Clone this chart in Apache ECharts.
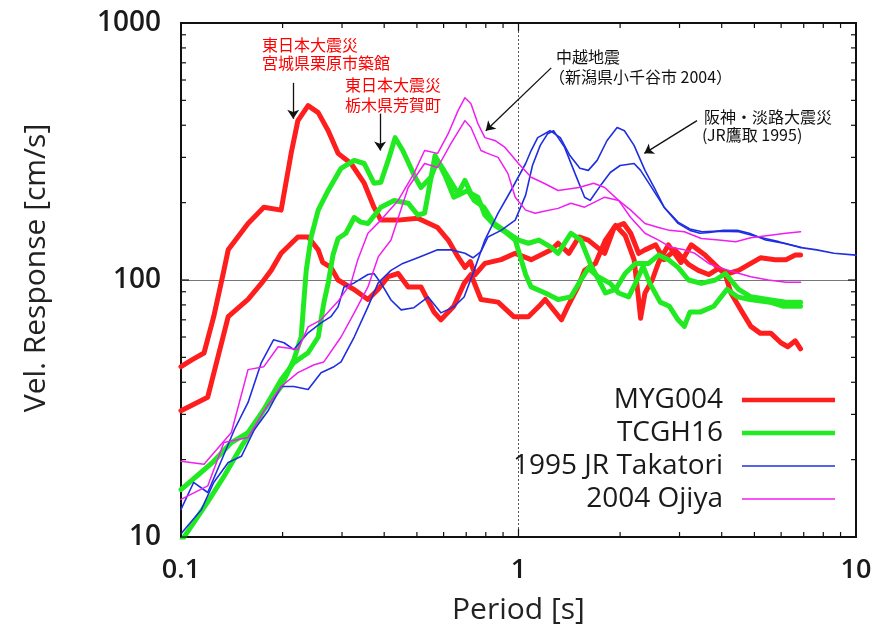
<!DOCTYPE html>
<html>
<head>
<meta charset="utf-8">
<title>Vel. Response</title>
<script src="https://cdn.jsdelivr.net/npm/echarts@6.0.0/dist/echarts.min.js"></script>
<style>
  html, body { margin: 0; padding: 0; background: #fff; }
  #chart { width: 880px; height: 635px; }
</style>
</head>
<body>
<div id="chart"></div>
<script>
// [period (s), velocity response (cm/s)], two components per record
var myg004A = [[0.1, 46], [0.108, 49], [0.117, 52], [0.125, 72], [0.134, 109], [0.138, 131], [0.158, 166], [0.176, 192],
  [0.198, 187], [0.212, 311], [0.222, 417], [0.238, 477], [0.255, 448], [0.273, 381], [0.292, 311], [0.319, 284],
  [0.349, 238], [0.373, 192], [0.391, 171], [0.44, 171], [0.503, 174], [0.576, 160], [0.619, 143], [0.662, 123],
  [0.694, 112], [0.72, 118], [0.744, 105], [0.795, 116], [0.888, 120], [0.978, 127], [1.09, 120], [1.25, 131],
  [1.31, 139], [1.41, 127], [1.51, 147], [1.61, 143], [1.8, 127], [1.92, 160], [2.05, 166], [2.15, 152], [2.27, 127],
  [2.37, 131], [2.55, 137], [2.7, 120], [2.91, 131], [3.19, 115], [3.41, 109], [3.66, 105], [3.92, 111], [4.19, 106],
  [4.49, 109], [4.88, 116], [5.21, 122], [5.76, 120], [6.2, 120], [6.61, 125], [6.85, 125]];
var myg004B = [[0.1, 31], [0.12, 35], [0.138, 72], [0.158, 84], [0.173, 97], [0.185, 109], [0.198, 127], [0.222, 147],
  [0.238, 147], [0.255, 131], [0.263, 117], [0.278, 112], [0.292, 100], [0.325, 92], [0.358, 84], [0.384, 92],
  [0.411, 103], [0.44, 106], [0.471, 94], [0.514, 94], [0.562, 75], [0.589, 70], [0.643, 79], [0.69, 97], [0.723, 105],
  [0.774, 84], [0.87, 82], [0.968, 72], [1.07, 72], [1.15, 79], [1.2, 84], [1.34, 70], [1.4, 79], [1.5, 94], [1.57, 109],
  [1.69, 116], [1.81, 143], [1.94, 163], [2.07, 149], [2.2, 120], [2.27, 84], [2.3, 71], [2.37, 89], [2.49, 100],
  [2.6, 117], [2.78, 137], [3.03, 117], [3.25, 137], [3.57, 125], [3.92, 111], [4.1, 105], [4.26, 89], [4.6, 75],
  [4.88, 66], [5.21, 62], [5.6, 62], [5.99, 57], [6.28, 55], [6.61, 58], [6.85, 54]];
var tcgh16A = [[0.1, 15.3], [0.115, 17.9], [0.125, 19.7], [0.141, 23.3], [0.158, 25.5], [0.176, 31.3], [0.198, 38.5],
  [0.216, 49], [0.227, 60], [0.231, 81.5], [0.235, 109], [0.243, 147], [0.255, 187], [0.273, 223], [0.298, 272],
  [0.326, 292], [0.349, 284], [0.373, 238], [0.391, 240], [0.411, 292], [0.431, 358], [0.454, 319], [0.494, 251],
  [0.514, 229], [0.55, 251], [0.576, 292], [0.619, 251], [0.662, 217], [0.694, 244], [0.723, 217], [0.758, 210],
  [0.795, 179], [0.851, 163], [0.912, 154], [0.978, 143], [1.05, 105], [1.09, 94], [1.2, 89], [1.31, 84], [1.43, 86],
  [1.53, 100], [1.61, 111], [1.72, 103], [1.87, 97], [1.98, 89], [2.12, 86], [2.22, 97], [2.34, 113], [2.45, 97],
  [2.63, 82], [2.8, 79], [2.97, 70], [3.1, 66], [3.22, 75], [3.45, 75], [3.79, 79], [4.15, 92], [4.45, 86], [4.85, 84],
  [5.56, 82], [6.1, 79], [6.85, 79]];
var tcgh16B = [[0.1, 9.6], [0.12, 13.7], [0.134, 17.2], [0.151, 22.5], [0.165, 26.9], [0.181, 33.4], [0.198, 40.9],
  [0.216, 47.7], [0.238, 52.1], [0.255, 60], [0.265, 81.5], [0.273, 97.4], [0.282, 125], [0.292, 145], [0.308, 152],
  [0.326, 175], [0.341, 168], [0.358, 166], [0.391, 192], [0.428, 204], [0.471, 199], [0.503, 179], [0.527, 182],
  [0.566, 305], [0.606, 255], [0.643, 210], [0.708, 223], [0.739, 204], [0.79, 192], [0.846, 166], [0.906, 156],
  [1.0, 143], [1.07, 139], [1.15, 143], [1.25, 134], [1.31, 127], [1.43, 152], [1.53, 143], [1.64, 114], [1.81, 89],
  [1.94, 92], [2.07, 106], [2.22, 116], [2.43, 116], [2.6, 125], [2.78, 120], [2.97, 112], [3.19, 100], [3.48, 97],
  [3.83, 100], [4.1, 106], [4.49, 92], [4.88, 86], [5.48, 84], [6.2, 82], [6.85, 82]];
var takatoriA = [[0.1, 12.8], [0.109, 16.3], [0.12, 14.9], [0.131, 19.5], [0.144, 26.2], [0.158, 33.4], [0.173, 47.7],
  [0.188, 58.5], [0.202, 57], [0.216, 53.6], [0.238, 62.3], [0.26, 68.1], [0.278, 72], [0.292, 78.6], [0.304, 94],
  [0.326, 97.4], [0.358, 105], [0.373, 106], [0.391, 97.4], [0.419, 83.6], [0.449, 76.5], [0.49, 78], [0.54, 85.9],
  [0.589, 74.5], [0.643, 78.6], [0.69, 85.9], [0.739, 109], [0.795, 143], [0.87, 182], [0.95, 223], [1.05, 284],
  [1.09, 319], [1.14, 358], [1.24, 381], [1.33, 358], [1.42, 305], [1.52, 272], [1.61, 267], [1.71, 292], [1.83, 349],
  [1.96, 392], [2.06, 381], [2.2, 334], [2.37, 267], [2.55, 223], [2.7, 192], [2.97, 166], [3.22, 156], [3.45, 152],
  [3.68, 153], [4.04, 156], [4.45, 156], [4.83, 152], [5.4, 143], [6.1, 139], [6.8, 134], [7.65, 131], [8.6, 127],
  [10, 125]];
var takatoriB = [[0.1, 10.3], [0.115, 12.8], [0.125, 16.3], [0.138, 19.5], [0.151, 20.6], [0.165, 26.2], [0.181, 30.9],
  [0.198, 38.5], [0.216, 38.5], [0.238, 37.5], [0.26, 43.6], [0.284, 46], [0.298, 48], [0.326, 60], [0.358, 78.6],
  [0.384, 97.4], [0.419, 109], [0.454, 116], [0.503, 122], [0.576, 131], [0.631, 131], [0.694, 127], [0.733, 122],
  [0.774, 129], [0.812, 147], [0.888, 156], [0.978, 171], [1.05, 214], [1.1, 279], [1.16, 334], [1.22, 371],
  [1.27, 381], [1.37, 328], [1.47, 260], [1.57, 210], [1.63, 204], [1.75, 233], [1.87, 262], [2.0, 279], [2.2, 284],
  [2.3, 267], [2.46, 233], [2.7, 192], [2.97, 168], [3.22, 158], [3.5, 154], [3.92, 155], [4.49, 154], [5.14, 147],
  [5.9, 141], [6.85, 134]];
var ojiyaA = [[0.1, 19.7], [0.117, 19.2], [0.141, 25.5], [0.158, 44.8], [0.176, 46], [0.194, 55], [0.222, 53.6],
  [0.238, 65.7], [0.26, 70], [0.292, 82.6], [0.319, 97.4], [0.334, 120], [0.358, 152], [0.391, 171], [0.44, 204],
  [0.49, 260], [0.527, 319], [0.576, 311], [0.619, 371], [0.662, 456], [0.694, 512], [0.723, 485], [0.758, 406],
  [0.795, 358], [0.851, 349], [0.912, 328], [1.0, 284], [1.09, 251], [1.19, 238], [1.31, 223], [1.51, 229], [1.67, 238],
  [1.8, 229], [1.98, 204], [2.15, 187], [2.37, 166], [2.6, 160], [2.8, 156], [3.1, 154], [3.48, 145], [3.92, 143],
  [4.4, 141], [4.88, 146], [5.5, 149], [6.2, 152], [6.85, 154]];
var ojiyaB = [[0.1, 14], [0.12, 15.8], [0.134, 23.3], [0.158, 24.4], [0.176, 30.9], [0.198, 38.5], [0.222, 43.6],
  [0.248, 46.8], [0.265, 48], [0.298, 60], [0.326, 74.5], [0.358, 94], [0.384, 123], [0.419, 143], [0.471, 229],
  [0.527, 284], [0.576, 274], [0.631, 340], [0.694, 417], [0.723, 392], [0.774, 319], [0.81, 311], [0.87, 300],
  [0.93, 260], [0.978, 210], [1.05, 187], [1.12, 182], [1.19, 185], [1.31, 190], [1.43, 199], [1.57, 192], [1.8, 210],
  [1.98, 204], [2.15, 175], [2.37, 152], [2.6, 143], [2.83, 134], [3.1, 131], [3.33, 127], [3.66, 116], [3.92, 112],
  [4.4, 107], [4.88, 103], [5.5, 100], [6.2, 98], [6.85, 98]];

var legendNames = ['MYG004', 'TCGH16', '1995 JR Takatori', '2004 Ojiya'];
var periodTicks = [0.1, 0.2, 0.3, 0.4, 0.5, 0.6, 0.7, 0.8, 0.9, 1, 2, 3, 4, 5, 6, 7, 8, 9, 10];
var velocityTicks = [10, 20, 30, 40, 50, 60, 70, 80, 90, 100, 200, 300, 400, 500, 600, 700, 800, 900, 1000];
// annotation arrows, [from, to] in [period, velocity]
var arrowLines = [
  [[0.215, 585], [0.215, 424]],
  [[0.389, 444], [0.389, 319]],
  [[1.25, 669], [0.80, 381]],
  [[3.38, 417], [2.36, 311]]
];

function lineSeries(name, data, color, width) {
  return {
    name: name,
    type: 'line',
    data: data,
    symbol: 'none',
    showSymbol: false,
    clip: true,
    lineStyle: { color: color, width: width, join: 'round', cap: 'round' },
    itemStyle: { color: color },
    emphasis: { disabled: true }
  };
}

function tickSeries(values, dim) {
  return {
    type: 'custom',
    silent: true,
    z: 10,
    data: values.map(function (v) { return dim === 'x' ? [v, 10] : [0.1, v]; }),
    renderItem: function (params, api) {
      var v = api.value(dim === 'x' ? 0 : 1),
        lg = Math.log10(v),
        len = Math.abs(lg - Math.round(lg)) < 1e-6 ? 8 : 5,
        rect = params.coordSys,
        style = { stroke: '#111', lineWidth: 1.2 },
        p = api.coord(dim === 'x' ? [v, 10] : [0.1, v]);
      if (dim === 'x') {
        return {
          type: 'group', children: [
            { type: 'line', shape: { x1: p[0], y1: rect.y + rect.height, x2: p[0], y2: rect.y + rect.height - len }, style: style },
            { type: 'line', shape: { x1: p[0], y1: rect.y, x2: p[0], y2: rect.y + len }, style: style }
          ]
        };
      }
      return {
        type: 'group', children: [
          { type: 'line', shape: { x1: rect.x, y1: p[1], x2: rect.x + len, y2: p[1] }, style: style },
          { type: 'line', shape: { x1: rect.x + rect.width, y1: p[1], x2: rect.x + rect.width - len, y2: p[1] }, style: style }
        ]
      };
    }
  };
}

function initChart(dom) {
  var myChart = echarts.init(dom),
    cjk = '"Noto Sans CJK JP", sans-serif',
    labelFmt = function (v) { return String(v); },
    thickIcon = 'path://M0,0L93,0L93,4.5L0,4.5Z',
    thinIcon = 'path://M0,0L93,0L93,1.6L0,1.6Z',
    red = lineSeries('MYG004', myg004A, '#ff1e1e', 5),
    red2 = lineSeries('MYG004', myg004B, '#ff1e1e', 5);

  red.markLine = {
    silent: true,
    z: 1,
    symbol: 'none',
    label: { show: false },
    data: [
      { xAxis: 1, lineStyle: { color: '#555', width: 1, type: [2, 2] } },
      { yAxis: 100, lineStyle: { color: '#777', width: 1, type: 'solid' } }
    ]
  };
  red2.markLine = {
    silent: true,
    z: 12,
    symbol: ['none', 'arrow'],
    symbolSize: 9,
    label: { show: false },
    lineStyle: { color: '#111', width: 1.3, type: 'solid' },
    data: arrowLines.map(function (a) {
      return [{ coord: a[0] }, { coord: a[1] }];
    })
  };

  var option = {
    animation: false,
    backgroundColor: '#fff',
    grid: { left: 181, right: 24, top: 23, bottom: 98, show: true, borderColor: '#111', borderWidth: 2, backgroundColor: 'transparent' },
    xAxis: {
      type: 'log',
      logBase: 10,
      min: 0.1,
      max: 10,
      name: 'Period [s]',
      nameLocation: 'middle',
      nameGap: 58,
      nameTextStyle: { fontFamily: 'Open Sans', fontSize: 30, color: '#222' },
      axisLine: { show: false },
      axisTick: { show: false },
      splitLine: { show: false },
      axisLabel: { formatter: labelFmt, margin: 20, fontFamily: 'Open Sans', fontWeight: 600, fontSize: 27, color: '#1a1a1a' }
    },
    yAxis: {
      type: 'log',
      logBase: 10,
      min: 10,
      max: 1000,
      name: 'Vel. Response [cm/s]',
      nameLocation: 'middle',
      nameRotate: 90,
      nameGap: 130,
      nameTextStyle: { fontFamily: 'Open Sans', fontSize: 30, color: '#222', padding: [0, 0, 0, 24] },
      axisLine: { show: false },
      axisTick: { show: false },
      splitLine: { show: false },
      axisLabel: { formatter: labelFmt, margin: 20, fontFamily: 'Open Sans', fontWeight: 600, fontSize: 28, color: '#1a1a1a' }
    },
    legend: {
      data: legendNames.map(function (n, i) {
        return { name: n, icon: i < 2 ? thickIcon : thinIcon };
      }),
      orient: 'vertical',
      align: 'right',
      right: 45,
      top: 386,
      padding: 0,
      itemWidth: 93,
      itemHeight: 14,
      itemGap: 5,
      selectedMode: false,
      textStyle: { fontFamily: 'Open Sans', fontSize: 28, color: '#1a1a1a', padding: [0, 14, 0, 0] }
    },
    graphic: [
      { type: 'text', left: 262, top: 36, silent: true, style: { text: '東日本大震災\n宮城県栗原市築館', fill: '#ff0000', fontFamily: cjk, fontSize: 16, lineHeight: 18 } },
      { type: 'text', left: 345, top: 75, silent: true, style: { text: '東日本大震災\n栃木県芳賀町', fill: '#ff0000', fontFamily: cjk, fontSize: 16, lineHeight: 20 } },
      { type: 'text', left: 556, top: 48, silent: true, style: { text: '中越地震', fill: '#111', fontFamily: cjk, fontSize: 16, lineHeight: 18 } },
      { type: 'text', left: 549, top: 68, silent: true, style: { text: '（新潟県小千谷市 2004）', fill: '#111', fontFamily: cjk, fontSize: 16, lineHeight: 18 } },
      { type: 'text', left: 704, top: 108, silent: true, style: { text: '阪神・淡路大震災', fill: '#111', fontFamily: cjk, fontSize: 16, lineHeight: 18 } },
      { type: 'text', left: 702, top: 126, silent: true, style: { text: '(JR鷹取 1995)', fill: '#111', fontFamily: cjk, fontSize: 16, lineHeight: 18 } }
    ],
    series: [
      red,
      red2,
      lineSeries('TCGH16', tcgh16A, '#22ea22', 5),
      lineSeries('TCGH16', tcgh16B, '#22ea22', 5),
      lineSeries('1995 JR Takatori', takatoriA, '#1f2fe0', 1.6),
      lineSeries('1995 JR Takatori', takatoriB, '#1f2fe0', 1.6),
      lineSeries('2004 Ojiya', ojiyaA, '#f01ef0', 1.5),
      lineSeries('2004 Ojiya', ojiyaB, '#f01ef0', 1.5),
      tickSeries(periodTicks, 'x'),
      tickSeries(velocityTicks, 'y')
    ]
  };
  myChart.setOption(option, true);
  window.addEventListener('resize', function () {
    myChart.resize();
  });
}

initChart(document.getElementById('chart'));
</script>
</body>
</html>
